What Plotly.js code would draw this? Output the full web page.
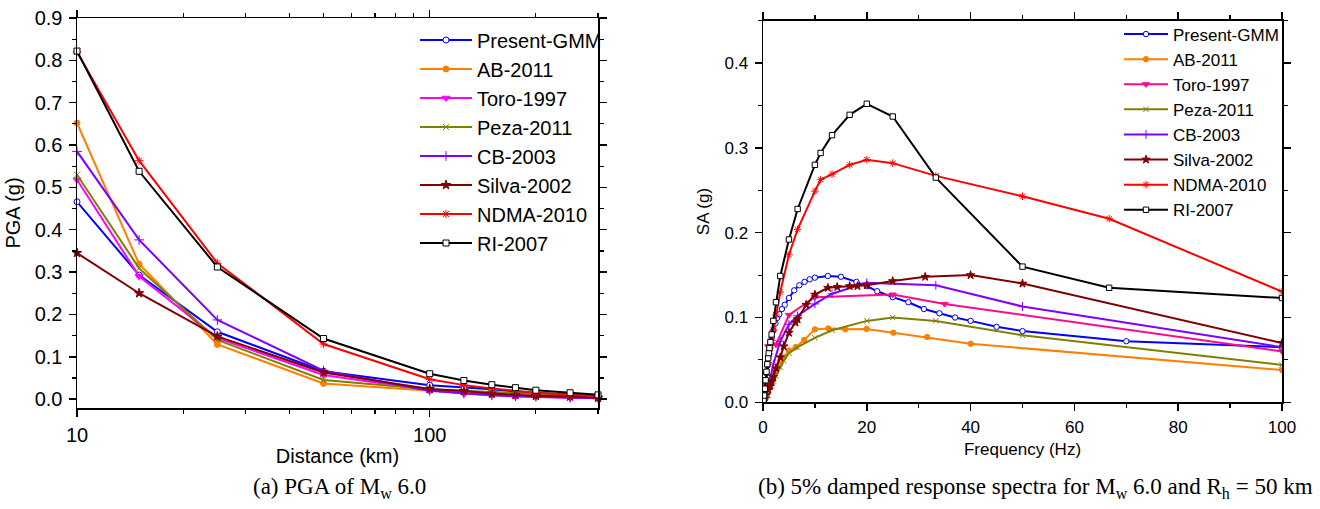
<!DOCTYPE html>
<html>
<head>
<meta charset="utf-8">
<script src="https://cdn.plot.ly/plotly-3.0.1.min.js"></script>
<style>
  html, body { margin: 0; padding: 0; background: #ffffff; }
  #chart { width: 1320px; height: 509px; }
</style>
</head>
<body>
<div id="chart"></div>
<script>
// ---------------- Data: (a) PGA vs distance ----------------
var seriesNames = ["Present-GMM", "AB-2011", "Toro-1997", "Peza-2011", "CB-2003", "Silva-2002", "NDMA-2010", "RI-2007"];

var distanceKm = [10, 15, 25, 50, 100, 125, 150, 175, 200, 250, 300];
var pgaPresentGMM = [0.466, 0.293, 0.159, 0.066, 0.033, 0.028, 0.023, 0.018, 0.015, 0.009, 0.006];
var pgaAB2011     = [0.652, 0.319, 0.129, 0.037, 0.020, 0.015, 0.011, 0.009, 0.007, 0.005, 0.003];
var pgaToro1997   = [0.518, 0.290, 0.144, 0.057, 0.021, 0.013, 0.009, 0.006, 0.005, 0.003, 0.002];
var pgaPeza2011   = [0.530, 0.309, 0.140, 0.045, 0.023, 0.020, 0.017, 0.014, 0.012, 0.009, 0.006];
var pgaCB2003     = [0.585, 0.376, 0.187, 0.067, 0.020, 0.013, 0.009, 0.007, 0.006, 0.003, 0.002];
var pgaSilva2002  = [0.345, 0.250, 0.148, 0.063, 0.024, 0.019, 0.013, 0.010, 0.008, 0.006, 0.003];
var pgaNDMA2010   = [0.820, 0.563, 0.321, 0.130, 0.047, 0.033, 0.025, 0.020, 0.015, 0.010, 0.007];
var pgaRI2007     = [0.822, 0.538, 0.312, 0.143, 0.060, 0.044, 0.034, 0.027, 0.021, 0.015, 0.010];

var distanceTickVals = [10, 100];
var distanceTickText = ["10", "100"];
var distanceMinorTicks = [20, 30, 40, 50, 60, 70, 80, 90, 200, 300];

// ---------------- Data: (b) response spectra ----------------
var freqPresentGMM = [0.1, 0.2, 0.33, 0.5, 0.67, 0.83, 1.0, 1.25, 1.43, 1.67, 2.0, 2.4, 2.75, 3.15, 3.65, 4.2, 5.0, 6.0, 7.0, 8.0, 9.0, 10, 12.5, 15, 18, 20, 22, 25, 28, 31, 34, 37, 40, 45, 50, 70, 100];
var saPresentGMM   = [0.003, 0.008, 0.015, 0.024, 0.034, 0.043, 0.052, 0.062, 0.069, 0.076, 0.085, 0.093, 0.0995, 0.104, 0.110, 0.115, 0.123, 0.132, 0.138, 0.142, 0.145, 0.147, 0.149, 0.148, 0.142, 0.137, 0.131, 0.124, 0.118, 0.110, 0.105, 0.100, 0.096, 0.089, 0.084, 0.072, 0.065];

var freqAB2011 = [0.2, 0.25, 0.32, 0.4, 0.5, 0.63, 0.8, 1.0, 1.26, 1.59, 2.0, 2.51, 3.16, 3.98, 5.01, 6.31, 7.94, 10.0, 12.59, 15.85, 19.95, 25.12, 31.62, 40.0, 100];
var saAB2011   = [0.0015, 0.002, 0.003, 0.005, 0.007, 0.009, 0.012, 0.016, 0.020, 0.024, 0.030, 0.037, 0.045, 0.053, 0.061, 0.065, 0.0735, 0.086, 0.087, 0.086, 0.0865, 0.082, 0.077, 0.069, 0.038];

var freqToro1997 = [0.5, 1.0, 2.5, 5.0, 10, 25, 35, 100];
var saToro1997   = [0.020, 0.066, 0.068, 0.103, 0.124, 0.127, 0.116, 0.060];

var freqPeza2011 = [0.5, 1.0, 1.67, 2.0, 2.5, 3.33, 4.0, 5.0, 6.67, 10, 13.3, 20, 25, 33.3, 50, 100];
var saPeza2011   = [0.002, 0.008, 0.019, 0.025, 0.031, 0.041, 0.049, 0.058, 0.065, 0.076, 0.085, 0.096, 0.100, 0.096, 0.079, 0.044];

var freqCB2003 = [0.5, 0.67, 1.0, 1.33, 2.0, 3.33, 5.0, 6.67, 10, 13.3, 20, 33.3, 50, 100];
var saCB2003   = [0.006, 0.010, 0.018, 0.027, 0.045, 0.072, 0.092, 0.102, 0.116, 0.128, 0.141, 0.138, 0.113, 0.065];

var freqSilva2002 = [0.1, 0.2, 0.5, 1.0, 1.33, 1.67, 2.0, 2.5, 3.33, 4.0, 5.0, 6.25, 6.67, 8.33, 10, 12.5, 14.3, 16.7, 18.2, 20, 25, 31.25, 40, 50, 100];
var saSilva2002   = [0.001, 0.003, 0.008, 0.015, 0.019, 0.024, 0.030, 0.040, 0.053, 0.066, 0.082, 0.094, 0.098, 0.115, 0.127, 0.135, 0.136, 0.137, 0.137, 0.138, 0.143, 0.148, 0.150, 0.140, 0.070];

var freqNDMA2010 = [0.1, 0.2, 0.5, 1.0, 1.25, 1.43, 1.67, 2.0, 2.5, 3.33, 5.0, 6.67, 10, 11.1, 13.3, 16.7, 20, 25, 33.3, 50, 66.7, 100];
var saNDMA2010   = [0.003, 0.008, 0.024, 0.047, 0.057, 0.064, 0.073, 0.085, 0.103, 0.130, 0.174, 0.204, 0.249, 0.2625, 0.269, 0.280, 0.286, 0.282, 0.267, 0.243, 0.2165, 0.1305];

var freqRI2007 = [0.1, 0.2, 0.33, 0.5, 0.67, 0.83, 1.0, 1.11, 1.25, 1.43, 1.67, 2.0, 2.5, 3.33, 5.0, 6.67, 10, 11.1, 13.3, 16.7, 20, 25, 33.3, 50, 66.7, 100];
var saRI2007   = [0.003, 0.008, 0.016, 0.026, 0.036, 0.045, 0.052, 0.058, 0.064, 0.071, 0.080, 0.096, 0.118, 0.149, 0.192, 0.228, 0.280, 0.294, 0.315, 0.339, 0.352, 0.337, 0.265, 0.160, 0.135, 0.123];

// ---------------- Styles ----------------
var styleA = [
  {color: "#0000ff", symbol: "circle", fill: "#ffffff", size: 6},
  {color: "#ff8000", symbol: "circle", fill: "#ff8000", size: 6},
  {color: "#ff00ff", symbol: "triangle-down", fill: "#ff00ff", size: 7},
  {color: "#808000", symbol: "x-thin-open", fill: "#808000", size: 6},
  {color: "#8000ff", symbol: "cross-thin-open", fill: "#8000ff", size: 7},
  {color: "#800000", symbol: "star", fill: "#800000", size: 7},
  {color: "#ff0000", symbol: "asterisk-open", fill: "#ff0000", size: 7},
  {color: "#000000", symbol: "square", fill: "#ffffff", size: 6}
];
var styleB = JSON.parse(JSON.stringify(styleA));
styleB[2].color = "#ff0a8c"; styleB[2].fill = "#ff0a8c";

var pgaSeries = [pgaPresentGMM, pgaAB2011, pgaToro1997, pgaPeza2011, pgaCB2003, pgaSilva2002, pgaNDMA2010, pgaRI2007];
var freqSeries = [freqPresentGMM, freqAB2011, freqToro1997, freqPeza2011, freqCB2003, freqSilva2002, freqNDMA2010, freqRI2007];
var saSeries = [saPresentGMM, saAB2011, saToro1997, saPeza2011, saCB2003, saSilva2002, saNDMA2010, saRI2007];

function mk(st, sizeScale) {
  var open = st.symbol.indexOf("open") >= 0;
  return {
    symbol: st.symbol,
    size: st.size * sizeScale,
    color: open ? st.color : st.fill,
    line: {color: st.color, width: 1}
  };
}

var traces = [];
for (var i = 0; i < seriesNames.length; i++) {
  traces.push({
    type: "scatter", mode: "lines+markers", name: seriesNames[i],
    x: distanceKm, y: pgaSeries[i], xaxis: "x", yaxis: "y",
    line: {color: styleA[i].color, width: 2},
    marker: mk(styleA[i], 1),
    cliponaxis: false, legend: "legend"
  });
}
for (var j = 0; j < seriesNames.length; j++) {
  traces.push({
    type: "scatter", mode: "lines+markers", name: seriesNames[j],
    x: freqSeries[j], y: saSeries[j], xaxis: "x2", yaxis: "y2",
    line: {color: styleB[j].color, width: 2},
    marker: mk(styleB[j], 0.9),
    legend: "legend2"
  });
}

var W = 1320, H = 509;
function fx(px) { return px / W; }
function fy(py) { return 1 - py / H; }

var axisCommon = {
  showline: true, linecolor: "#000000", linewidth: 1.5,
  ticks: "outside", ticklen: 7, tickwidth: 1.5, tickcolor: "#000000",
  mirror: "ticks", showgrid: false, zeroline: false, automargin: false
};

function merge(a, b) { var o = {}; for (var k in a) o[k] = a[k]; for (var k2 in b) o[k2] = b[k2]; return o; }

var layout = {
  width: W, height: H,
  margin: {l: 0, r: 0, t: 0, b: 0},
  paper_bgcolor: "#ffffff", plot_bgcolor: "#ffffff",
  font: {family: "Arial, Liberation Sans, sans-serif", color: "#000000"},
  showlegend: true,
  xaxis: merge(axisCommon, {
    type: "log", domain: [fx(77), fx(598)], range: [1, Math.log10(300)],
    tickmode: "array", tickvals: distanceTickVals, ticktext: distanceTickText,
    tickfont: {size: 20}, ticklabelstandoff: 1,
    minor: {tickmode: "array", tickvals: distanceMinorTicks, ticks: "outside", ticklen: 4, tickwidth: 1.2, tickcolor: "#000000"},
    title: {text: "Distance (km)", font: {size: 20}, standoff: 4},
    anchor: "y"
  }),
  yaxis: merge(axisCommon, {
    domain: [fy(408), fy(18)], range: [-0.021, 0.9],
    dtick: 0.1, tick0: 0, tickformat: ".1f", tickfont: {size: 20}, ticklabelstandoff: 2,
    minor: {dtick: 0.05, ticks: "outside", ticklen: 4, tickwidth: 1.2, tickcolor: "#000000"},
    title: {text: "PGA (g)", font: {size: 20}, standoff: 8},
    anchor: "x"
  }),
  xaxis2: merge(axisCommon, {
    domain: [fx(763), fx(1282)], range: [0, 100],
    dtick: 20, tick0: 0, tickfont: {size: 17}, ticklabelstandoff: 2,
    minor: {dtick: 10, ticks: "outside", ticklen: 4, tickwidth: 1.2, tickcolor: "#000000"},
    title: {text: "Frequency (Hz)", font: {size: 17}, standoff: 7},
    anchor: "y2"
  }),
  yaxis2: merge(axisCommon, {
    domain: [fy(402.3), fy(20.7)], range: [0, 0.45],
    dtick: 0.1, tick0: 0, tickformat: ".1f", tickfont: {size: 17}, ticklabelstandoff: 3,
    minor: {dtick: 0.05, ticks: "outside", ticklen: 4, tickwidth: 1.2, tickcolor: "#000000"},
    title: {text: "SA (g)", font: {size: 17}, standoff: 10},
    anchor: "x2"
  }),
  legend: {
    x: fx(415), xanchor: "left", y: fy(20.5), yanchor: "top",
    bgcolor: "rgba(0,0,0,0)", borderwidth: 0,
    font: {size: 20}, itemwidth: 52, traceorder: "normal"
  },
  legend2: {
    x: fx(1119), xanchor: "left", y: fy(16.5), yanchor: "top",
    bgcolor: "rgba(0,0,0,0)", borderwidth: 0,
    font: {size: 17}, itemwidth: 44, traceorder: "normal"
  },
  annotations: [
    {text: "(a) PGA of M<sub>w</sub> 6.0", xref: "paper", yref: "paper",
     x: fx(339), y: fy(488), xanchor: "center", yanchor: "middle", showarrow: false,
     font: {family: "Liberation Serif, Times New Roman, serif", size: 23}},
    {text: "(b) 5% damped response spectra for M<sub>w</sub> 6.0 and R<sub>h</sub> = 50 km", xref: "paper", yref: "paper",
     x: fx(1035), y: fy(488), xanchor: "center", yanchor: "middle", showarrow: false,
     font: {family: "Liberation Serif, Times New Roman, serif", size: 23}}
  ]
};

Plotly.newPlot("chart", traces, layout, {displayModeBar: false, staticPlot: true});
</script>
</body>
</html>
